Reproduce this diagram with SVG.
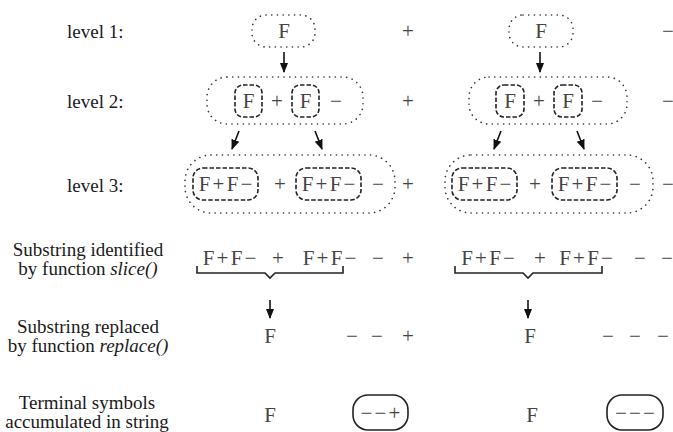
<svg xmlns="http://www.w3.org/2000/svg" width="673" height="432" viewBox="0 0 673 432">
  <style>
    .lbl { font-family: "Liberation Serif", "Times New Roman", serif; font-size: 19px; fill: #1a1a1a; }
    .sym { font-family: "Liberation Serif", "Times New Roman", serif; font-size: 21px; fill: #444; text-anchor: middle; }
    .dot { fill: none; stroke: #333; stroke-width: 1.6; stroke-dasharray: 0.1 5.6; stroke-linecap: round; }
    .dash { fill: none; stroke: #222; stroke-width: 1.6; stroke-dasharray: 4.5 2; }
    .solid { fill: none; stroke: #222; stroke-width: 1.6; }
    .arrow { stroke: #111; stroke-width: 1.6; fill: none; marker-end: url(#head); }
    .brace { fill: none; stroke: #222; stroke-width: 1.6; }
  </style>
  <defs>
    <marker id="head" viewBox="0 0 10 10" refX="9" refY="5" markerWidth="6.5" markerHeight="6.5" orient="auto" markerUnits="strokeWidth">
      <path d="M0,1 L10,5 L0,9 Z" fill="#111"/>
    </marker>
  </defs>
  <rect width="673" height="432" fill="#ffffff"/>

  <!-- row labels -->
  <g id="labels">
    <text class="lbl" x="67" y="38">level 1:</text>
    <text class="lbl" x="67" y="108">level 2:</text>
    <text class="lbl" x="67" y="192">level 3:</text>
    <text class="lbl" x="88" y="256" text-anchor="middle">Substring identified</text>
    <text class="lbl" x="88" y="275" text-anchor="middle">by function <tspan font-style="italic">slice()</tspan></text>
    <text class="lbl" x="88" y="333" text-anchor="middle">Substring replaced</text>
    <text class="lbl" x="88" y="352" text-anchor="middle">by function <tspan font-style="italic">replace()</tspan></text>
    <text class="lbl" x="87" y="409" text-anchor="middle">Terminal symbols</text>
    <text class="lbl" x="87" y="428" text-anchor="middle">accumulated in string</text>
  </g>

  <!-- level 1 -->
  <g id="l1-left">
    <rect class="dot" x="252" y="15" width="63" height="32" rx="14"/>
    <text class="sym" x="284" y="38">F</text>
  </g>
  <g id="l1-plus"><text class="sym" x="408" y="38">+</text></g>
  <g id="l1-right">
    <rect class="dot" x="509" y="15" width="64" height="32" rx="14"/>
    <text class="sym" x="541" y="38">F</text>
  </g>
  <g id="l1-minus"><text class="sym" x="668" y="38">−</text></g>

  <!-- level 2 -->
  <g id="l2-left">
    <rect class="dot" x="207" y="77" width="156" height="47" rx="20"/>
    <rect class="dash" x="235" y="85" width="27" height="32" rx="8"/>
    <text class="sym" x="248.5" y="108">F</text>
    <text class="sym" x="277" y="108">+</text>
    <rect class="dash" x="292" y="85" width="27" height="32" rx="8"/>
    <text class="sym" x="305.5" y="108">F</text>
    <text class="sym" x="336" y="108">−</text>
  </g>
  <g id="l2-plus"><text class="sym" x="408" y="108">+</text></g>
  <g id="l2-right">
    <rect class="dot" x="469" y="77" width="158" height="47" rx="20"/>
    <rect class="dash" x="496" y="85" width="28" height="32" rx="8"/>
    <text class="sym" x="510" y="108">F</text>
    <text class="sym" x="539" y="108">+</text>
    <rect class="dash" x="554" y="85" width="28" height="32" rx="8"/>
    <text class="sym" x="568" y="108">F</text>
    <text class="sym" x="597" y="108">−</text>
  </g>
  <g id="l2-minus"><text class="sym" x="668" y="108">−</text></g>

  <!-- level 3 -->
  <g id="l3-left">
    <rect class="dot" x="185" y="155" width="210" height="58" rx="26"/>
    <rect class="dash" x="193" y="168" width="65" height="32" rx="10"/>
    <text class="sym" x="204.5 218.5 232.5 246.5" y="191">F+F−</text>
    <text class="sym" x="280" y="191">+</text>
    <rect class="dash" x="296" y="168" width="65" height="32" rx="10"/>
    <text class="sym" x="307.5 321.5 335.5 349.5" y="191">F+F−</text>
    <text class="sym" x="378" y="191">−</text>
  </g>
  <g id="l3-plus"><text class="sym" x="408" y="191">+</text></g>
  <g id="l3-right">
    <rect class="dot" x="445" y="155" width="208" height="58" rx="26"/>
    <rect class="dash" x="452" y="168" width="65" height="32" rx="10"/>
    <text class="sym" x="463.5 477.5 491.5 505.5" y="191">F+F−</text>
    <text class="sym" x="535" y="191">+</text>
    <rect class="dash" x="552" y="168" width="65" height="32" rx="10"/>
    <text class="sym" x="563.5 577.5 591.5 605.5" y="191">F+F−</text>
    <text class="sym" x="635" y="191">−</text>
  </g>
  <g id="l3-minus"><text class="sym" x="668" y="191">−</text></g>

  <!-- sliced substrings -->
  <g id="slice-left">
    <text class="sym" x="208.5 222.5 236.5 250.5" y="265">F+F−</text>
    <text class="sym" x="278" y="265">+</text>
    <text class="sym" x="308.5 322.5 336.5 350.5" y="265">F+F−</text>
    <path class="brace" d="M197,266 V273 H265 L270,278 L275,273 H343 V266"/>
  </g>
  <g id="slice-left-rest">
    <text class="sym" x="378" y="265">−</text>
    <text class="sym" x="408" y="265">+</text>
  </g>
  <g id="slice-right">
    <text class="sym" x="467 481 495 509" y="265">F+F−</text>
    <text class="sym" x="540" y="265">+</text>
    <text class="sym" x="565 579 593 607" y="265">F+F−</text>
    <path class="brace" d="M455,266 V273 H523 L528,278 L533,273 H602 V266"/>
  </g>
  <g id="slice-right-rest">
    <text class="sym" x="640" y="265">−</text>
    <text class="sym" x="667" y="265">−</text>
  </g>

  <!-- replaced substrings -->
  <g id="replace-left">
    <text class="sym" x="270" y="343">F</text>
  </g>
  <g id="replace-left-rest">
    <text class="sym" x="352" y="343">−</text>
    <text class="sym" x="377" y="343">−</text>
    <text class="sym" x="408" y="343">+</text>
  </g>
  <g id="replace-right">
    <text class="sym" x="530" y="343">F</text>
  </g>
  <g id="replace-right-rest">
    <text class="sym" x="608" y="343">−</text>
    <text class="sym" x="635" y="343">−</text>
    <text class="sym" x="663" y="343">−</text>
  </g>

  <!-- accumulated terminals -->
  <g id="term-left-f"><text class="sym" x="270" y="422">F</text></g>
  <g id="term-left">
    <rect class="solid" x="353" y="395" width="55" height="35" rx="15"/>
    <text class="sym" x="366.5 380.5 394.5" y="420">−−+</text>
  </g>
  <g id="term-right-f"><text class="sym" x="532" y="422">F</text></g>
  <g id="term-right">
    <rect class="solid" x="607" y="395" width="56" height="35" rx="15"/>
    <text class="sym" x="621 635 649" y="420">−−−</text>
  </g>

  <!-- connectors -->
  <g id="connectors">
    <line class="arrow" x1="284" y1="52" x2="284" y2="72"/>
    <line class="arrow" x1="540" y1="52" x2="540" y2="72"/>
    <line class="arrow" x1="239" y1="131" x2="232" y2="149"/>
    <line class="arrow" x1="315" y1="131" x2="322" y2="149"/>
    <line class="arrow" x1="501" y1="131" x2="494" y2="149"/>
    <line class="arrow" x1="577" y1="131" x2="584" y2="149"/>
    <line class="arrow" x1="270" y1="300" x2="270" y2="318"/>
    <line class="arrow" x1="528" y1="300" x2="528" y2="318"/>
  </g>
</svg>
